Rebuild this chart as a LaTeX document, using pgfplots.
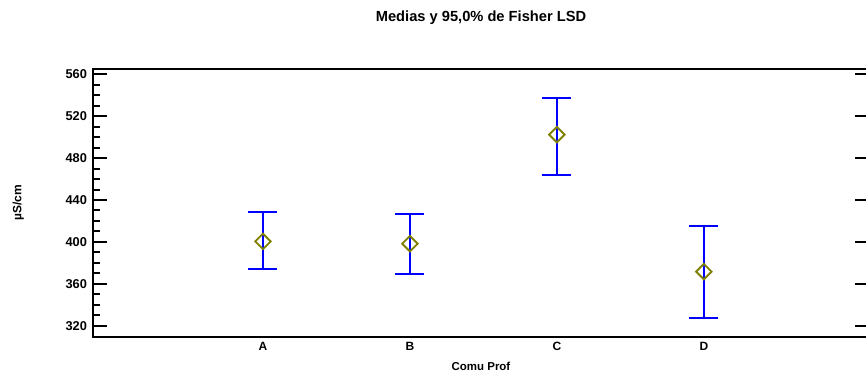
\documentclass[border=0pt]{standalone}
\usepackage{fontspec}
\setmainfont{Liberation Sans}
\usepackage{pgfplots}
\pgfplotsset{compat=1.18}
\definecolor{olivemk}{RGB}{128,128,0}
\begin{document}
\begin{tikzpicture}
\begin{axis}[
  at={(0,0)}, anchor=south west,
  scale only axis,
  width=582pt, height=201pt,
  xmin=-0.1565, xmax=5.124,
  ymin=309.2, ymax=565.1,
  axis line style={line width=1.5pt},
  xtick={1,2,3,4},
  xticklabels={A,B,C,D},
  x tick style={draw=none},
  xticklabel style={anchor=base, yshift=-9.75pt, font=\fontsize{9}{10}\selectfont\bfseries},
  ytick={320,360,400,440,480,520,560},
  minor y tick num=3,
  ytick pos=left,
  tick align=inside,
  y tick style={line width=1.5pt, black},
  major tick length=10.5pt,
  minor tick length=5pt,
  yticklabel style={font=\fontsize{9.6}{10}\selectfont\bfseries, xshift=-1pt},
  /pgf/number format/assume math mode=true,
  title={Medias y 95,0\% de Fisher LSD},
  title style={at={(rel axis cs:0.5,1)}, anchor=base, yshift=30pt, font=\fontsize{11}{12}\selectfont\bfseries},
  xlabel={Comu Prof},
  xlabel style={at={(axis description cs:0.5,0)}, anchor=base, yshift=-24.75pt, font=\fontsize{8.6}{10}\selectfont\bfseries},
  ylabel={µS/cm},
  ylabel style={at={(axis description cs:0,0.5)}, anchor=center, yshift=56pt, font=\fontsize{9}{10}\selectfont\bfseries},
  clip=false,
]
\addplot[draw=none, mark=none,
  error bars/.cd, y dir=both, y explicit,
  error bar style={line width=1.3pt, blue},
  error mark options={rotate=90, mark size=10.9pt, line width=1.3pt, blue}]
  coordinates {
    (1,401.2) +- (0,27.1)
    (2,397.9) +- (0,28.5)
    (3,500.5) +- (0,36.6)
    (4,371.4) +- (0,43.8)
  };
\addplot[only marks, mark=square, mark size=4.1pt, mark options={rotate=45, draw=olivemk, line width=1.4pt}]
  coordinates {(1,400.5) (2,398.3) (3,502.4) (4,371.6)};
\end{axis}
\begin{axis}[
  at={(0,0)}, anchor=south west,
  scale only axis,
  width=582pt, height=201pt,
  xmin=-0.1565, xmax=5.124,
  ymin=309.2, ymax=565.1,
  axis x line=none,
  axis y line*=right,
  axis line style={line width=1.5pt, -},
  ytick={320,360,400,440,480,520,560},
  yticklabels={},
  tick align=inside,
  y tick style={line width=1.5pt, black},
  major tick length=10.5pt,
]
\end{axis}
\pgfresetboundingbox
\useasboundingbox (-69.75pt,-29.25pt) rectangle (579.75pt,252.75pt);
\end{tikzpicture}
\end{document}
